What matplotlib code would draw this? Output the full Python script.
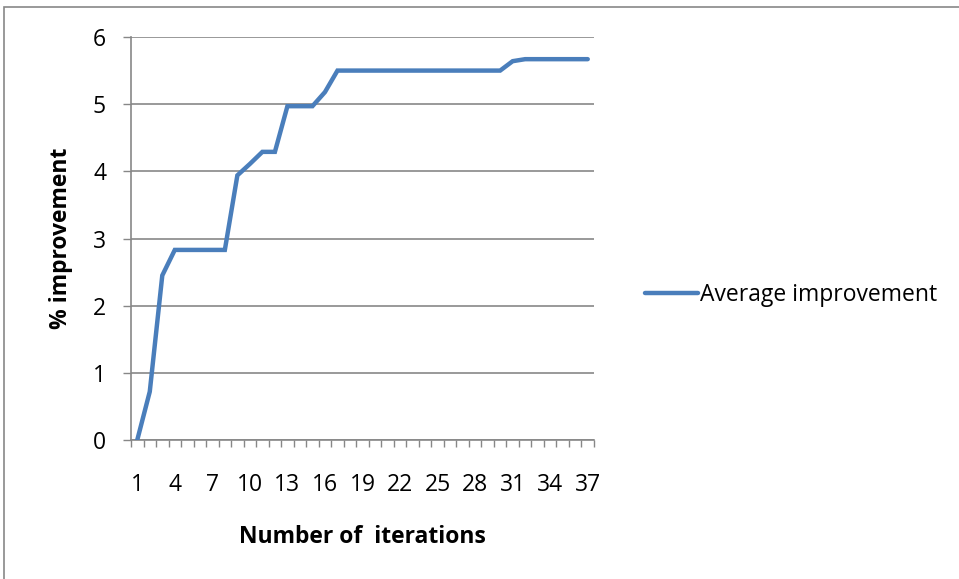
import numpy as np
import matplotlib.pyplot as plt
from matplotlib.patches import Rectangle

# Average improvement per iteration (%)
iterations = np.arange(1, 38)
avg_improvement = [0.0, 0.72, 2.45, 2.83, 2.83, 2.83, 2.83, 2.83, 3.94, 4.11,
                   4.29, 4.29, 4.97, 4.97, 4.97, 5.18,
                   5.5, 5.5, 5.5, 5.5, 5.5, 5.5, 5.5, 5.5, 5.5, 5.5, 5.5, 5.5, 5.5, 5.5,
                   5.64, 5.67, 5.67, 5.67, 5.67, 5.67, 5.67]
xtick_labels = list(range(1, 38, 3))
ytick_values = list(range(0, 7))

plt.rcParams['font.family'] = ['Open Sans', 'DejaVu Sans']
grey = '#878787'
fs = 16.5

fig = plt.figure(figsize=(9.59, 5.79), dpi=100)
# chart frame
fig.patches.append(Rectangle((4 / 959, -0.1), 1.2, 1 - 7 / 579 + 0.1,
                             transform=fig.transFigure, fill=False,
                             edgecolor=grey, linewidth=1.2))

ax = fig.add_axes([131 / 959, 1 - 440 / 579, (594 - 131) / 959, (440 - 37) / 579])
line, = ax.plot(iterations, avg_improvement, color='#4A7EBB', linewidth=3.2,
                solid_capstyle='round', solid_joinstyle='miter', zorder=3,
                label='Average improvement')

ax.set_xlim(0.5, 37.5)
ax.set_ylim(0, 6)
ax.set_xticks(xtick_labels)
ax.set_xticks(np.arange(0.5, 38, 1), minor=True)
ax.set_yticks(ytick_values)
ax.tick_params(axis='x', which='major', length=0, pad=24, labelsize=fs)
ax.tick_params(axis='x', which='minor', length=5, width=1, color=grey)
ax.tick_params(axis='y', length=6, width=1, color=grey, pad=12, labelsize=fs)
ax.grid(axis='y', color=grey, linewidth=1.2)
ax.set_axisbelow(True)
for side in ['top', 'right']:
    ax.spines[side].set_visible(False)
for side in ['left', 'bottom']:
    ax.spines[side].set_color(grey)
    ax.spines[side].set_linewidth(1.2)

ax.set_xlabel('Number of  iterations', fontsize=fs, fontweight='bold', labelpad=20)
ax.set_ylabel('% improvement', fontsize=fs, fontweight='bold', labelpad=14)

fig.legend(handles=[line], loc='center left', bbox_to_anchor=(636 / 959, 1 - 295 / 579),
           frameon=False, fontsize=fs, handlelength=2.3, handletextpad=0.1,
           borderaxespad=0)

fig.savefig('out.png', dpi=100)
